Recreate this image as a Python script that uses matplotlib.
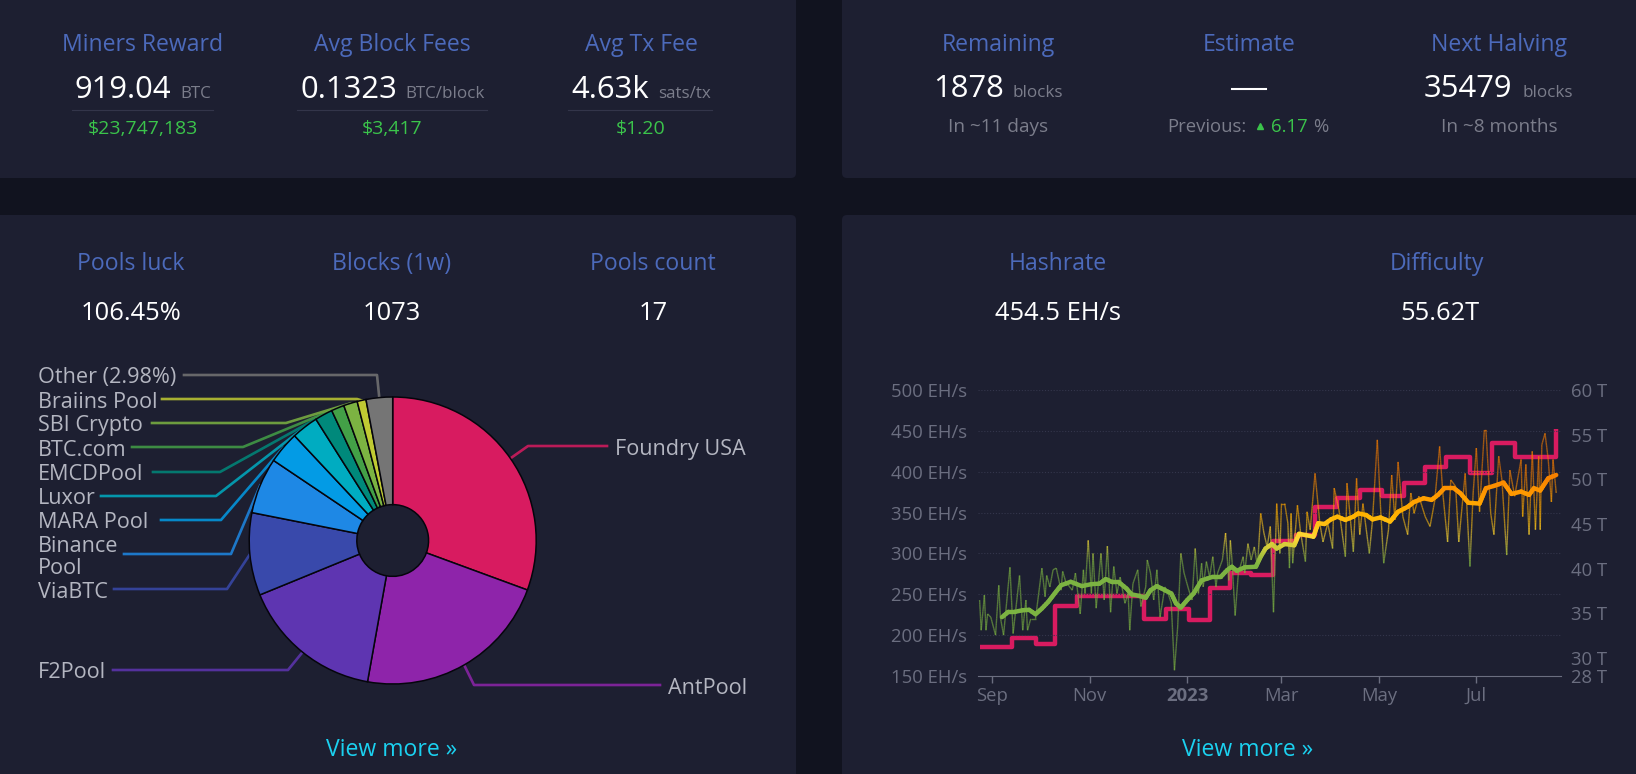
#!/usr/bin/env python3
# mining dashboard screenshot rebuilt with matplotlib
import numpy as np
import pandas as pd
import matplotlib as mpl
mpl.use('Agg')
import matplotlib.pyplot as plt
import matplotlib.dates as mdates
from matplotlib.collections import LineCollection
from matplotlib.colors import LinearSegmentedColormap, Normalize
from matplotlib.patches import FancyBboxPatch

plt.rcParams['font.family'] = ['Open Sans', 'DejaVu Sans']

W, H = 1636, 774

# pools
pool_names = ['Foundry USA', 'AntPool', 'F2Pool', 'ViaBTC', 'Binance\nPool', 'MARA Pool', 'Luxor',
              'EMCDPool', 'BTC.com', 'SBI Crypto', 'Braiins Pool', 'Other (2.98%)']
pool_shares = [30.6, 22.2, 16.0, 9.3, 6.3, 3.6, 3.0, 2.0, 1.45, 1.55, 1.0, 2.98]
pool_colors = ['#D81B60', '#8E24AA', '#5E35B1', '#3949AB', '#1E88E5', '#039BE5', '#00ACC1',
               '#00897B', '#43A047', '#7CB342', '#C0CA33', '#757575']

# hashrate, days since 2022-08-23 and EH/s
raw_days = [1, 2, 4, 5, 6, 8, 11, 13, 14, 16, 20, 22, 26, 28, 30, 31, 33, 36, 40, 42, 43, 45, 47, 49,
            52, 53, 55, 59, 61, 64, 66, 67, 69, 71, 72, 74, 77, 79, 81, 83, 85, 87, 89, 92, 94, 95,
            97, 100, 102, 105, 106, 108, 110, 112, 114, 117, 119, 121, 123, 125, 127, 129, 132, 134,
            136, 138, 140, 141, 143, 145, 147, 149, 150, 153, 155, 157, 158, 159, 161, 163, 166, 167,
            169, 171, 173, 175, 177, 179, 181, 182, 183, 185, 187, 189, 190, 192, 194, 195, 196, 197,
            200, 202, 205, 206, 208, 211, 214, 216, 219, 222, 223, 226, 230, 231, 233, 235, 237, 239,
            241, 245, 247, 250, 252, 254, 257, 259, 261, 263, 266, 269, 271, 273, 276, 280, 283, 286,
            289, 291, 294, 296, 299, 301, 305, 308, 310, 312, 314, 317, 318, 321, 323, 326, 328, 331,
            333, 336, 340, 341, 343, 345, 347, 349, 351, 352, 353, 355, 357, 359, 360, 362]
raw_hash = [243, 206, 249, 206, 226, 222, 200, 261, 222, 200, 283, 202, 273, 206, 243, 206, 220, 220,
            282, 247, 273, 259, 280, 282, 255, 278, 265, 255, 276, 226, 280, 251, 316, 251, 300, 233,
            300, 243, 309, 228, 284, 251, 271, 239, 251, 206, 263, 280, 235, 259, 292, 276, 243, 280,
            222, 259, 251, 239, 157, 210, 300, 276, 255, 243, 306, 251, 288, 259, 290, 271, 296, 259,
            276, 292, 325, 267, 316, 292, 224, 276, 296, 276, 312, 292, 308, 284, 349, 325, 308, 320,
            333, 228, 361, 300, 361, 361, 337, 282, 349, 288, 359, 325, 290, 351, 329, 398, 337, 314,
            337, 306, 380, 353, 296, 386, 345, 302, 392, 323, 361, 300, 341, 439, 357, 288, 329, 396,
            341, 412, 345, 323, 374, 349, 370, 345, 333, 365, 431, 374, 314, 390, 382, 314, 398, 284,
            374, 429, 351, 451, 451, 349, 323, 419, 390, 298, 402, 370, 415, 345, 409, 323, 425, 329,
            419, 329, 433, 447, 415, 363, 415, 374]

ma_days = [15, 19, 23, 28, 32, 36, 40, 44, 48, 52, 58, 65, 71, 76, 80, 84, 88, 93, 96, 101, 105, 108,
           112, 117, 121, 124, 127, 131, 135, 140, 147, 152, 156, 159, 162, 167, 174, 177, 180, 184,
           187, 192, 198, 201, 205, 210, 213, 217, 221, 225, 230, 235, 238, 243, 247, 252, 258, 263,
           269, 273, 279, 284, 288, 292, 298, 302, 307, 314, 318, 323, 329, 334, 340, 345, 348, 352,
           357, 362]
ma_hash = [222, 228.5, 228.5, 230.5, 231, 225.6, 232.6, 240.8, 251, 261, 265.3, 260, 262.4, 263, 268.6,
           265, 265, 257, 250, 248, 245.7, 255, 260, 255, 251, 238.7, 233.8, 243, 251, 267, 271.4,
           271.4, 279.6, 283.7, 278.8, 283, 283.7, 296, 306, 311.5, 306, 311.5, 310, 324, 322.5,
           320.5, 337, 336, 341.7, 345, 341, 345, 349, 347, 341.7, 344, 339, 351, 357, 363, 367.5,
           365.5, 371.6, 379.8, 379.8, 373.6, 362, 361, 379.8, 382.6, 386.7, 372.8, 375.7, 371.6,
           379.8, 377, 392, 396]

# difficulty adjustments
diff_dates = ['2022-08-24', '2022-09-13', '2022-09-28', '2022-10-10', '2022-10-24', '2022-12-05',
              '2022-12-19', '2023-01-02', '2023-01-15', '2023-01-28', '2023-02-10', '2023-02-24',
              '2023-03-10', '2023-03-22', '2023-04-05', '2023-04-19', '2023-05-03', '2023-05-17',
              '2023-05-30', '2023-06-12', '2023-06-27', '2023-07-11', '2023-07-25', '2023-08-20',
              '2023-08-20']
diff_T = [31.2, 32.3, 31.6, 35.8, 37.0, 34.4, 35.55, 34.3, 37.8, 39.5, 39.3, 43.1, 43.8, 46.95, 47.9,
          48.8, 48.15, 49.55, 51.35, 52.5, 50.7, 54.05, 52.45, 55.55, 55.62]

month_ticks = ['2022-09-01', '2022-11-01', '2023-01-01', '2023-03-01', '2023-05-01', '2023-07-01']
month_labels = ['Sep', 'Nov', '2023', 'Mar', 'May', 'Jul']
hash_ticks = [150, 200, 250, 300, 350, 400, 450, 500]
diff_ticks = [28, 30, 35, 40, 45, 50, 55, 60]

PAGE = '#11131f'
CARD = '#1d1f31'
TITLE = '#4c6abb'
GREEN = '#3bc44b'
SUB = '#7b7d8b'
LABEL = '#b4b6c1'
AXIS = '#6b6e80'
CYAN = '#1bd1f0'


def px(size):
    return size * 0.72


fig = plt.figure(figsize=(W / 100, H / 100), dpi=100, facecolor=PAGE)
bg = fig.add_axes([0, 0, 1, 1], zorder=0)
bg.set_xlim(0, W)
bg.set_ylim(H, 0)
bg.axis('off')


def card(x0, y0, x1, y1):
    bg.add_patch(FancyBboxPatch((x0, y0), x1 - x0, y1 - y0, boxstyle='round,pad=0,rounding_size=5',
                                fc=CARD, ec='none'))


card(-20, -20, 796, 178)
card(842, -20, W + 20, 178)
card(-20, 215, 796, 800)
card(842, 215, W + 20, 800)


def txt(x, y, s, size, color, ha='center', va='center', **kw):
    return bg.text(x, y, s, fontsize=px(size), color=color, ha=ha, va=va, **kw)


# stat headers
for x, s in [(143, 'Miners Reward'), (392, 'Avg Block Fees'), (641, 'Avg Tx Fee'),
             (998, 'Remaining'), (1249, 'Estimate'), (1499, 'Next Halving')]:
    txt(x, 45, s, 23, TITLE, fontweight='medium')
for x, s in [(131, 'Pools luck'), (392, 'Blocks (1w)'), (653, 'Pools count'),
             (1058, 'Hashrate'), (1437, 'Difficulty')]:
    txt(x, 264.5, s, 23, TITLE, fontweight='medium')

# big numbers with unit next to them
for x, s, ux, u in [(75, '919.04', 180, 'BTC'), (300, '0.1323', 405, 'BTC/block'), (571, '4.63k', 658, 'sats/tx'),
                    (933, '1878', 1013, 'blocks'), (1424, '35479', 1523, 'blocks')]:
    base = 98 if x < 800 else 97
    txt(x, base, s, 31, 'white', ha='left', va='baseline')
    txt(ux, base, u, 17, SUB, ha='left', va='baseline')

for x0, x1 in [(72, 213), (297, 487), (568, 712)]:
    bg.plot([x0, x1], [110, 110], color='#33354a', lw=0.8)
for x, s in [(143, '$23,747,183'), (392, '$3,417'), (641, '$1.20')]:
    txt(x, 129, s, 19.5, GREEN)

bg.plot([1232, 1266], [88.5, 88.5], color='white', lw=1.5)
txt(998, 127, 'In ~11 days', 19, SUB)
txt(1499, 127, 'In ~8 months', 19, SUB)
txt(1167, 127, 'Previous:', 18.5, SUB, ha='left')
bg.plot([1260], [126], marker='^', ms=5, color=GREEN, ls='none')
txt(1271, 127, '6.17', 18.5, GREEN, ha='left')
txt(1313, 127, '%', 18.5, SUB, ha='left')

for x, s in [(131, '106.45%'), (392, '1073'), (653, '17'), (1058, '454.5 EH/s'), (1440, '55.62T')]:
    txt(x, 314, s, 25.5, 'white')

txt(392, 750, 'View more »', 23, CYAN)
txt(1248, 750, 'View more »', 23, CYAN)

# pool donut
cx, cy, R = 392.7, 540.5, 143.5
pie_ax = fig.add_axes([(cx - R) / W, 1 - (cy + R) / H, 2 * R / W, 2 * R / H], zorder=2)
pie_ax.pie(pool_shares, colors=pool_colors, startangle=90, counterclock=False, radius=1,
           wedgeprops=dict(width=0.75, edgecolor='#05050c', linewidth=1.1))
pie_ax.set_xlim(-1, 1)
pie_ax.set_ylim(-1, 1)
pie_ax.set_aspect('equal')

# leader lines: where the horizontal run begins, the elbow, its height, where the text goes
leader_x = [607, 660, 113, 114, 124, 161, 101, 153, 132, 152, 162, 184]
elbow_x = [528, 474, 288, 227, 231, 221, 216, 220, 243, 286, 357, 377]
leader_y = [446, 685, 670, 589, 554, 520, 496, 472, 447, 423, 399, 375]
label_x = [615, 668, 38, 38, 38, 38, 38, 38, 38, 38, 38, 38]

edges = np.cumsum([0] + pool_shares)
edges = edges / edges[-1] * 2 * np.pi
for i, name in enumerate(pool_names):
    mid = (edges[i] + edges[i + 1]) / 2
    sx = cx + R * np.sin(mid)
    sy = cy - R * np.cos(mid)
    bg.plot([sx, elbow_x[i], leader_x[i]], [sy, leader_y[i], leader_y[i]], color=pool_colors[i],
            lw=1.9, alpha=0.85, solid_joinstyle='round')
    ty = leader_y[i] + 3
    if '\n' in name:
        txt(label_x[i], ty - 10, name.split('\n')[0], 21.7, LABEL, ha='left')
        txt(label_x[i], ty + 11, name.split('\n')[1], 21.7, LABEL, ha='left')
    else:
        txt(label_x[i], ty, name, 21.7, LABEL, ha='left')

# hashrate and difficulty chart
x0, x1, y0, y1 = 978, 1561, 390, 676
ax = fig.add_axes([x0 / W, 1 - y1 / H, (x1 - x0) / W, (y1 - y0) / H], zorder=3)
ax2 = ax.twinx()
ax.set_zorder(4)
ax2.set_zorder(3)
ax.patch.set_visible(False)
ax2.patch.set_visible(False)

start = mdates.date2num(pd.Timestamp('2022-08-23'))
end = mdates.date2num(pd.Timestamp('2023-08-23'))
ax.set_xlim(start, end)
ax.set_ylim(150, 500)
ax2.set_ylim(28, 60)

hash_cmap = LinearSegmentedColormap.from_list('hash', [
    (0.0, '#7CB342'), (138 / 350, '#7CB342'), (170 / 350, '#FDD835'), (197 / 350, '#FFB300'),
    (225 / 350, '#FF9800'), (250 / 350, '#F57C00'), (1.0, '#F57C00')])
hash_norm = Normalize(150, 500)


def gradient_line(a, xs, ys, lw, alpha, zorder, cap):
    # a line only takes one colour per segment, so cut long ones up for the vertical gradient
    pts = []
    vals = []
    for i in range(len(xs) - 1):
        n = max(2, int(abs(ys[i + 1] - ys[i]) / 3) + 2)
        sx = np.linspace(xs[i], xs[i + 1], n)
        sy = np.linspace(ys[i], ys[i + 1], n)
        pts += [[(sx[j], sy[j]), (sx[j + 1], sy[j + 1])] for j in range(n - 1)]
        vals += [(sy[j] + sy[j + 1]) / 2 for j in range(n - 1)]
    lc = LineCollection(pts, cmap=hash_cmap, norm=hash_norm, linewidths=lw, alpha=alpha, zorder=zorder,
                        capstyle=cap)
    lc.set_array(np.array(vals))
    a.add_collection(lc)


ax2.step(mdates.date2num(pd.to_datetime(diff_dates)), diff_T, where='post', color='#D81B60', lw=3.2,
         solid_joinstyle='round', solid_capstyle='butt')
gradient_line(ax, start + np.array(raw_days), raw_hash, 1.0, 0.6, 2, 'butt')
gradient_line(ax, start + np.array(ma_days), ma_hash, 3.2, 1.0, 3, 'round')

ax.set_yticks(hash_ticks)
ax.set_yticklabels([f'{v} EH/s' for v in hash_ticks])
ax2.set_yticks(diff_ticks)
ax2.set_yticklabels([f'{v} T' for v in diff_ticks])
ax.set_xticks(mdates.date2num(pd.to_datetime(month_ticks)))
ax.set_xticklabels(month_labels)
ax.get_xticklabels()[2].set_fontweight('bold')

ax.tick_params(axis='y', length=0, pad=8, labelsize=px(18.5), labelcolor=AXIS)
ax2.tick_params(axis='y', length=0, pad=7.5, labelsize=px(18.5), labelcolor=AXIS)
ax.tick_params(axis='x', length=5, width=1, color=AXIS, pad=3, labelsize=px(18.5), labelcolor=AXIS)
for a in (ax, ax2):
    for name in ('top', 'left', 'right'):
        a.spines[name].set_visible(False)
ax.spines['bottom'].set_color(AXIS)
ax2.spines['bottom'].set_visible(False)
ax.grid(False)
for v in hash_ticks[1:]:
    ax.axhline(v, color='#34364c', lw=0.8, ls=(0, (1, 1.6)), zorder=1)

fig.savefig('out.png', dpi=100, facecolor=PAGE)
